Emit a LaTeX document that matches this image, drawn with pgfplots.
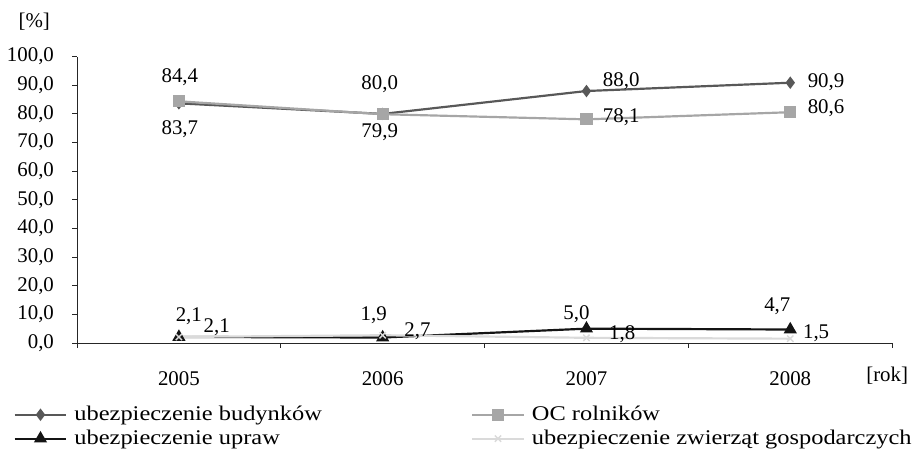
\documentclass[border=0pt]{standalone}
\usepackage{pgfplots}
\pgfplotsset{compat=1.18}
\usepackage{fontspec}
\setmainfont{Liberation Serif}
\newfontfamily\legfont[FakeStretch=1.17]{Liberation Serif}
\definecolor{cbud}{HTML}{585858}
\definecolor{coc}{HTML}{A6A6A6}
\definecolor{cupr}{HTML}{141414}
\definecolor{czw}{HTML}{DADADA}
\newcommand{\fs}{\fontsize{21}{24}\selectfont}
\pgfplotsset{
  sbud/.style={color=cbud, line width=2.2pt, mark=diamond*, mark size=4.5pt},
  soc/.style={color=coc, line width=2.2pt, mark=square*, mark size=5pt},
  supr/.style={color=cupr, line width=2.2pt, mark=triangle*, mark size=5.5pt},
  szw/.style={color=czw, line width=2.2pt, mark=x, mark size=4.5pt, mark options={line width=1.5pt}}}
\tikzset{lb/.style={anchor=base, font=\fs, inner sep=0pt, text=black}}
\begin{document}
\fs
\begin{tikzpicture}
\begin{axis}[
  scale only axis,
  width=820pt, height=288pt,
  xmin=-0.5, xmax=3.5, ymin=0, ymax=100,
  axis lines*=left,
  axis line style={line width=0.9pt, color=black!85},
  clip=false,
  xtick={0,1,2,3},
  xticklabels={2005,2006,2007,2008},
  minor xtick={-0.5,0.5,1.5,2.5,3.5},
  ytick={0,10,...,100},
  tick align=outside,
  major tick length=5pt,
  minor tick length=5pt,
  x tick style={draw=none},
  minor x tick style={draw=black!85, line width=0.9pt},
  y tick style={line width=0.9pt, color=black!85},
  xticklabel style={anchor=base, yshift=-38pt},
  yticklabel style={xshift=-11pt},
  /pgf/number format/.cd, fixed, fixed zerofill, precision=1, use comma, assume math mode=true,
  /pgfplots/.cd,
  ticklabel style={font=\fs},
  legend columns=2,
  legend image code/.code={\draw[yshift=6pt, mark repeat=2,mark phase=2] plot coordinates {(0pt,0pt) (26pt,0pt) (52pt,0pt)};},
  legend style={draw=none, fill=none, at={(rel axis cs:0,0)}, anchor=north west, xshift=-64pt, yshift=-63pt,
    font=\fs\legfont, inner sep=0pt, row sep=4pt,
    nodes={inner sep=0pt, text height=15pt, text depth=5pt, anchor=base west},
    /tikz/every odd column/.append style={column sep=7pt}},
]
\addplot[sbud] coordinates {(0,83.7) (1,80.0) (2,88.0) (3,90.9)};
\addlegendentry{\makebox[399pt][l]{ubezpieczenie budynków}}
\addplot[soc] coordinates {(0,84.4) (1,79.9) (2,78.1) (3,80.6)};
\addlegendentry{OC rolników}
\addplot[supr] coordinates {(0,2.1) (1,1.9) (2,5.0) (3,4.7)};
\addlegendentry{ubezpieczenie upraw}
\addplot[szw] coordinates {(0,2.1) (1,2.7) (2,1.8) (3,1.5)};
\addlegendentry{ubezpieczenie zwierząt gospodarczych}
% data labels
\node[lb] at (axis cs:0,83.7) [xshift=1pt, yshift=-31pt] {83,7};
\node[lb] at (axis cs:1,80.0) [xshift=-3pt, yshift=25pt] {80,0};
\node[lb] at (axis cs:2,88.0) [xshift=35pt, yshift=5pt] {88,0};
\node[lb] at (axis cs:3,90.9) [xshift=36pt, yshift=-5pt] {90,9};
\node[lb] at (axis cs:0,84.4) [xshift=1pt, yshift=19pt] {84,4};
\node[lb] at (axis cs:1,79.9) [xshift=-3pt, yshift=-23pt] {79,9};
\node[lb] at (axis cs:2,78.1) [xshift=35pt, yshift=-3pt] {78,1};
\node[lb] at (axis cs:3,80.6) [xshift=36pt, yshift=-1pt] {80,6};
\node[lb] at (axis cs:0,2.1) [xshift=10pt, yshift=16pt] {2,1};
\node[lb] at (axis cs:1,1.9) [xshift=-9pt, yshift=17pt] {1,9};
\node[lb] at (axis cs:2,5.0) [xshift=-10pt, yshift=9pt] {5,0};
\node[lb] at (axis cs:3,4.7) [xshift=-13pt, yshift=18pt] {4,7};
\node[lb] at (axis cs:0,2.1) [xshift=38pt, yshift=4pt] {2,1};
\node[lb] at (axis cs:1,2.7) [xshift=35pt, yshift=-1pt] {2,7};
\node[lb] at (axis cs:2,1.8) [xshift=36pt, yshift=-2pt] {1,8};
\node[lb] at (axis cs:3,1.5) [xshift=26pt, yshift=0pt] {1,5};
\node[anchor=center, font=\fs] at (rel axis cs:0,1) [xshift=-43pt, yshift=35pt] {[\%]};
\node[anchor=center, font=\fs] at (rel axis cs:1,0) [xshift=-5pt, yshift=-33pt] {[rok]};
\path (rel axis cs:0,0) ++(-77pt,-102pt) rectangle ++(915pt,447pt);
\end{axis}
\end{tikzpicture}
\end{document}
